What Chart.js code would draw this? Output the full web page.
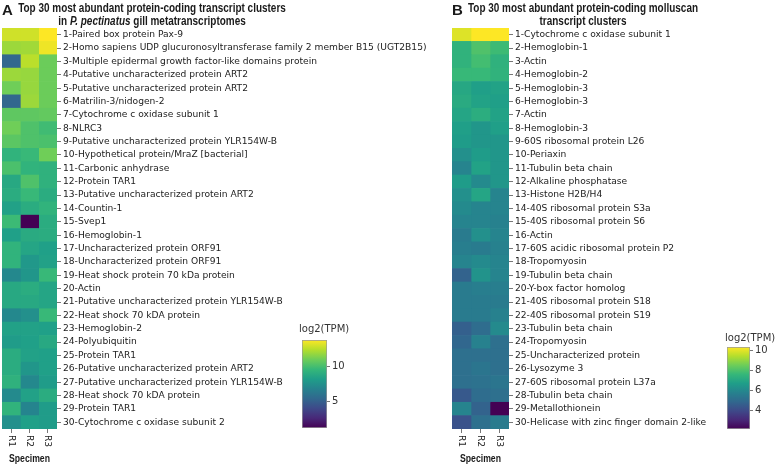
<!DOCTYPE html>
<html><head><meta charset="utf-8">
<script src="https://cdn.jsdelivr.net/npm/chart.js@4.4.1/dist/chart.umd.min.js"></script>
<style>
html,body{margin:0;padding:0;background:#fff;}
#wrap{position:relative;width:778px;height:465px;overflow:hidden;background:#fff;}
canvas{position:absolute;}
.ttl{position:absolute;font-family:"Liberation Sans",Arial,sans-serif;font-weight:bold;font-size:12px;line-height:12.5px;color:#1a1a1a;text-align:center;white-space:nowrap;transform:scaleX(0.83);transform-origin:50% 0;}
.big{position:absolute;font-family:"Liberation Sans",Arial,sans-serif;font-weight:bold;font-size:15px;color:#1a1a1a;line-height:15px;}
.cbt{position:absolute;font-family:"DejaVu Sans",sans-serif;font-size:10px;color:#333;white-space:nowrap;line-height:12px;}
</style></head><body>
<div id="wrap">
<canvas id="hmA" width="450" height="465" style="left:0px;top:0px"></canvas>
<canvas id="hmB" width="300" height="465" style="left:450px;top:0px"></canvas>
<canvas id="cbA" width="80" height="110" style="left:290px;top:330px"></canvas>
<canvas id="cbB" width="63" height="100" style="left:715px;top:337px"></canvas>
<div class="big" style="left:2px;top:2px">A</div>
<div class="ttl" style="left:-48px;top:2px;width:400px">Top 30 most abundant protein-coding transcript clusters<br>in <i>P. pectinatus</i> gill metatranscriptomes</div>
<div class="big" style="left:452px;top:2px">B</div>
<div class="ttl" style="left:383px;top:2px;width:400px">Top 30 most abundant protein-coding molluscan<br>transcript clusters</div>
<div class="cbt" style="left:299px;top:323px">log2(TPM)</div>
<div class="cbt" style="left:725px;top:332px">log2(TPM)</div>
</div>
<script>
// ---------- DATA ----------
const specimens = ['R1', 'R2', 'R3'];
const xAxisTitle = 'Specimen';

const rowLabelsA = [
  '1-Paired box protein Pax-9',
  '2-Homo sapiens UDP glucuronosyltransferase family 2 member B15 (UGT2B15)',
  '3-Multiple epidermal growth factor-like domains protein',
  '4-Putative uncharacterized protein ART2',
  '5-Putative uncharacterized protein ART2',
  '6-Matrilin-3/nidogen-2',
  '7-Cytochrome c oxidase subunit 1',
  '8-NLRC3',
  '9-Putative uncharacterized protein YLR154W-B',
  '10-Hypothetical protein/MraZ [bacterial]',
  '11-Carbonic anhydrase',
  '12-Protein TAR1',
  '13-Putative uncharacterized protein ART2',
  '14-Countin-1',
  '15-Svep1',
  '16-Hemoglobin-1',
  '17-Uncharacterized protein ORF91',
  '18-Uncharacterized protein ORF91',
  '19-Heat shock protein 70 kDa protein',
  '20-Actin',
  '21-Putative uncharacterized protein YLR154W-B',
  '22-Heat shock 70 kDA protein',
  '23-Hemoglobin-2',
  '24-Polyubiquitin',
  '25-Protein TAR1',
  '26-Putative uncharacterized protein ART2',
  '27-Putative uncharacterized protein YLR154W-B',
  '28-Heat shock 70 kDA protein',
  '29-Protein TAR1',
  '30-Cytochrome c oxidase subunit 2'
];
const valuesA_R1 = [13.0,12.0,5.3,12.0,11.1,5.3,10.7,11.1,10.6,9.4,10.2,8.8,9.0,8.4,9.8,8.3,9.4,9.4,7.1,8.8,8.8,7.1,8.4,8.1,9.0,9.0,9.3,7.2,9.4,7.5];
const valuesA_R2 = [13.0,12.1,12.6,11.9,11.9,12.0,10.7,10.3,10.3,9.7,9.4,10.3,9.7,9.0,1.1,8.9,8.6,7.9,7.8,9.0,8.8,7.5,8.4,8.3,8.4,7.8,7.1,8.4,6.9,8.3];
const valuesA_R3 = [13.9,13.6,11.0,11.0,11.0,11.0,10.8,9.9,10.2,11.1,9.3,9.3,9.0,9.4,9.0,9.0,8.3,8.4,9.7,8.6,8.6,9.7,8.3,8.8,8.3,8.3,8.1,9.0,8.1,8.1];

const rowLabelsB = [
  '1-Cytochrome c oxidase subunit 1',
  '2-Hemoglobin-1',
  '3-Actin',
  '4-Hemoglobin-2',
  '5-Hemoglobin-3',
  '6-Hemoglobin-3',
  '7-Actin',
  '8-Hemoglobin-3',
  '9-60S ribosomal protein L26',
  '10-Periaxin',
  '11-Tubulin beta chain',
  '12-Alkaline phosphatase',
  '13-Histone H2B/H4',
  '14-40S ribosomal protein S3a',
  '15-40S ribosomal protein S6',
  '16-Actin',
  '17-60S acidic ribosomal protein P2',
  '18-Tropomyosin',
  '19-Tubulin beta chain',
  '20-Y-box factor homolog',
  '21-40S ribosomal protein S18',
  '22-40S ribosomal protein S19',
  '23-Tubulin beta chain',
  '24-Tropomyosin',
  '25-Uncharacterized protein',
  '26-Lysozyme 3',
  '27-60S ribosomal protein L37a',
  '28-Tubulin beta chain',
  '29-Metallothionein',
  '30-Helicase with zinc finger domain 2-like'
];
const valuesB_R1 = [9.9,7.4,7.4,7.6,7.0,7.1,6.9,6.7,6.6,6.2,5.8,6.6,6.2,6.0,5.8,5.5,5.6,5.8,4.7,5.5,5.5,5.5,4.6,4.8,5.1,5.1,5.1,4.4,5.8,4.2];
const valuesB_R2 = [10.3,8.0,7.8,7.6,6.7,6.8,7.2,6.4,6.4,6.6,6.8,6.0,6.9,5.8,5.8,6.2,5.5,6.0,6.3,5.6,5.5,5.5,5.0,5.7,5.1,5.3,5.2,5.0,4.7,5.1];
const valuesB_R3 = [10.3,7.7,7.35,7.4,6.8,6.7,6.8,6.7,6.4,6.4,6.4,6.4,5.8,5.8,5.7,5.8,5.7,5.8,5.8,5.6,5.5,5.7,6.0,5.1,5.1,5.1,5.3,5.1,2.1,5.5];

const colorTicksA = [5, 10];
const colorTicksB = [4, 6, 8, 10];

// ---------- COLOR ----------
const VIRIDIS = ['#440154','#482878','#3e4989','#31688e','#26828e','#1f9e89','#35b779','#6dcd59','#b4de2c','#fde725'];
function hexToRgb(h){return [parseInt(h.substr(1,2),16),parseInt(h.substr(3,2),16),parseInt(h.substr(5,2),16)];}
const VIR_RGB = VIRIDIS.map(hexToRgb);
function viridis(t){
  t = Math.max(0, Math.min(1, t));
  const n = VIR_RGB.length - 1;
  const p = t * n; const i = Math.min(n - 1, Math.floor(p)); const f = p - i;
  const a = VIR_RGB[i], b = VIR_RGB[i+1];
  const c = a.map((x, k) => Math.round(x + (b[k] - x) * f));
  return 'rgb(' + c.join(',') + ')';
}

const LABEL_FONT = 'DejaVu Sans';
const LABEL_SIZE = 9.15;
const TEXT_COLOR = '#222';
const TICK_COLOR = '#777';

const xLabelPlugin = {
  id: 'xRotLabels',
  afterDraw(chart) {
    const s = chart.scales.x; const ctx = chart.ctx;
    ctx.save();
    ctx.font = LABEL_SIZE + 'px "' + LABEL_FONT + '"';
    ctx.fillStyle = TEXT_COLOR;
    ctx.textAlign = 'left'; ctx.textBaseline = 'middle';
    s.ticks.forEach((t, i) => {
      const x = s.getPixelForValue(t.value);
      ctx.save();
      ctx.translate(x, s.top + 6);
      ctx.rotate(Math.PI / 2);
      ctx.fillText(specimens[i], 0, 0);
      ctx.restore();
    });
    // axis title (condensed bold, centred under the axis)
    ctx.font = 'bold 11px "Liberation Sans"';
    ctx.fillStyle = '#1a1a1a';
    ctx.textAlign = 'center'; ctx.textBaseline = 'middle';
    ctx.fillText(xAxisTitle, (s.left + s.right) / 2, s.bottom - 6, 41);
    ctx.restore();
  }
};

function makeHeatmap(id, labels, cols, cfg) {
  const all = cols.flat();
  const vmin = Math.min(...all), vmax = Math.max(...all);
  const datasets = cols.map((vals, j) => ({
    label: specimens[j],
    data: vals.map(() => 1),
    backgroundColor: vals.map(v => viridis((v - vmin) / (vmax - vmin))),
    borderWidth: 0,
    barPercentage: 1,
    categoryPercentage: 1
  }));
  const tickPos = specimens.map((_, i) => i + 0.5);
  new Chart(document.getElementById(id), {
    type: 'bar',
    data: { labels: labels, datasets: datasets },
    options: {
      indexAxis: 'y', responsive: false, animation: false, events: [],
      layout: { padding: { left: cfg.left, top: cfg.top, right: 0, bottom: 0 } },
      plugins: { legend: { display: false }, tooltip: { enabled: false } },
      scales: {
        x: {
          type: 'linear', stacked: true, min: 0, max: specimens.length, position: 'bottom',
          afterBuildTicks: s => { s.ticks = tickPos.map(v => ({ value: v })); },
          afterFit: s => { s.height = cfg.xAxisH; },
          grid: { drawOnChartArea: false, tickLength: 4, color: TICK_COLOR },
          border: { display: false },
          ticks: { display: false },
          title: { display: false }
        },
        y: {
          type: 'category', stacked: true, position: 'right', offset: true,
          afterFit: s => { s.width = cfg.yAxisW; },
          grid: { drawOnChartArea: false, offset: false, tickLength: 4, color: TICK_COLOR },
          border: { display: false },
          ticks: { autoSkip: false, padding: 2, font: { family: LABEL_FONT, size: LABEL_SIZE }, color: TEXT_COLOR }
        }
      }
    },
    plugins: [xLabelPlugin]
  });
}

function makeColorbar(id, cols, tickVals, cfg) {
  const all = cols.flat();
  const vmin = Math.min(...all), vmax = Math.max(...all);
  new Chart(document.getElementById(id), {
    type: 'bar',
    data: { labels: [''], datasets: [{
      data: [[vmin, vmax]],
      backgroundColor: ctx => {
        const c = ctx.chart; const y = c.scales.y;
        if (!c.chartArea || !y) return VIRIDIS[5];
        const y0 = y.getPixelForValue(vmin), y1 = y.getPixelForValue(vmax);
        if (!isFinite(y0) || !isFinite(y1)) return VIRIDIS[5];
        const g = c.ctx.createLinearGradient(0, y0, 0, y1);
        VIRIDIS.forEach((col, i) => g.addColorStop(i / (VIRIDIS.length - 1), col));
        return g;
      },
      borderColor: '#9a9a9a', borderWidth: 1, borderSkipped: false,
      barPercentage: 1, categoryPercentage: 1
    }]},
    options: {
      responsive: false, animation: false, events: [],
      layout: { padding: { left: cfg.left, top: cfg.top, bottom: cfg.bottom, right: 0 } },
      plugins: { legend: { display: false }, tooltip: { enabled: false } },
      scales: {
        x: { display: false },
        y: {
          position: 'right', min: vmin, max: vmax,
          afterBuildTicks: s => { s.ticks = tickVals.map(v => ({ value: v })); },
          afterFit: s => { s.width = cfg.axisW; },
          grid: { drawOnChartArea: false, tickLength: 3, color: TICK_COLOR },
          border: { display: false },
          ticks: { padding: 2, font: { family: LABEL_FONT, size: 10 }, color: '#333' }
        }
      }
    }
  });
}

makeHeatmap('hmA', rowLabelsA, [valuesA_R1, valuesA_R2, valuesA_R3], { left: 2, top: 28, xAxisH: 36, yAxisW: 450 - 57 });
makeHeatmap('hmB', rowLabelsB, [valuesB_R1, valuesB_R2, valuesB_R3], { left: 2, top: 28, xAxisH: 36, yAxisW: 300 - 59 });
makeColorbar('cbA', [valuesA_R1, valuesA_R2, valuesA_R3], colorTicksA, { left: 12, top: 10, bottom: 12, axisW: 80 - 37 });
makeColorbar('cbB', [valuesB_R1, valuesB_R2, valuesB_R3], colorTicksB, { left: 12, top: 10, bottom: 8, axisW: 63 - 35 });
</script>
</body></html>
